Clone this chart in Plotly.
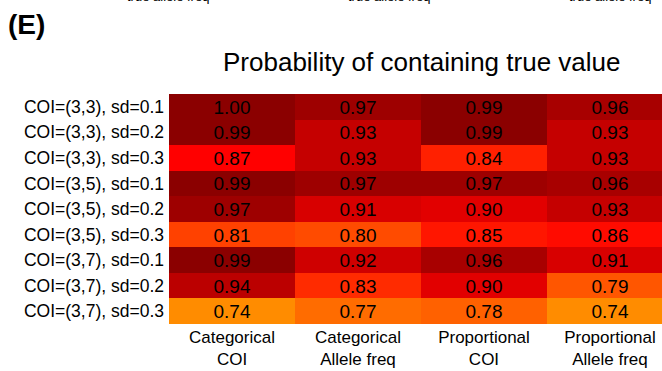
import plotly.graph_objects as go

rows = ["COI=(3,3), sd=0.1", "COI=(3,3), sd=0.2", "COI=(3,3), sd=0.3",
        "COI=(3,5), sd=0.1", "COI=(3,5), sd=0.2", "COI=(3,5), sd=0.3",
        "COI=(3,7), sd=0.1", "COI=(3,7), sd=0.2", "COI=(3,7), sd=0.3"]
cols = ["Categorical<br>COI", "Categorical<br>Allele freq",
        "Proportional<br>COI", "Proportional<br>Allele freq"]

categorical_coi = [1.00, 0.99, 0.87, 0.99, 0.97, 0.81, 0.99, 0.94, 0.74]
categorical_af = [0.97, 0.93, 0.93, 0.97, 0.91, 0.80, 0.92, 0.83, 0.77]
proportional_coi = [0.99, 0.99, 0.84, 0.97, 0.90, 0.85, 0.96, 0.90, 0.78]
proportional_af = [0.96, 0.93, 0.93, 0.96, 0.93, 0.86, 0.91, 0.79, 0.74]

series = [categorical_coi, categorical_af, proportional_coi, proportional_af]
z = [[s[i] for s in series] for i in range(len(rows))]

FONT = "Liberation Sans, Arial, Helvetica, sans-serif"
zmin, zmax = 0.74, 1.00
def pos(v):
    return (v - zmin) / (zmax - zmin)

colorscale = [
    [0.0, "#FF8C00"],
    [pos(0.87), "#FF0000"],
    [pos(0.99), "#8B0000"],
    [1.0, "#8B0000"],
]

fig = go.Figure(go.Heatmap(
    z=z, x=cols, y=rows,
    zmin=zmin, zmax=zmax,
    colorscale=colorscale,
    showscale=False,
    texttemplate="%{z:.2f}",
    textfont=dict(family=FONT, size=19, color="black"),
    hoverinfo="skip",
))

fig.update_layout(
    width=662, height=371,
    margin=dict(l=169, r=0, t=94, b=47),
    paper_bgcolor="white", plot_bgcolor="white",
    font=dict(family=FONT, color="black"),
    showlegend=False,
)
fig.update_xaxes(range=[-0.5, 3.413], showgrid=False, zeroline=False,
                 ticks="", tickfont=dict(family=FONT, size=17, color="black"),
                 ticklabelstandoff=1, showline=False)
fig.update_yaxes(autorange="reversed", showgrid=False, zeroline=False,
                 ticks="", tickfont=dict(family=FONT, size=17.5, color="black"),
                 ticklabelstandoff=4, showline=False)

fig.add_annotation(text="<b>(E)</b>", xref="paper", yref="paper",
                   x=-169/493, y=1 + (94 - 25) / 230, xanchor="left", yanchor="middle",
                   showarrow=False, font=dict(family=FONT, size=28, color="black"),
                   xshift=6)
fig.add_annotation(text="Probability of containing true value", xref="paper", yref="paper",
                   x=(421 - 169) / 493, y=1 + (94 - 62) / 230, xanchor="center", yanchor="middle",
                   showarrow=False, font=dict(family=FONT, size=26, color="black"))

for cx in [168, 389, 610]:
    fig.add_annotation(text="true allele freq", xref="paper", yref="paper",
                       x=(cx - 169) / 493, y=1 + (94 - 5.5) / 230,
                       xanchor="center", yanchor="bottom", showarrow=False,
                       font=dict(family=FONT, size=13, color="black"))

fig.write_html("out.html")
